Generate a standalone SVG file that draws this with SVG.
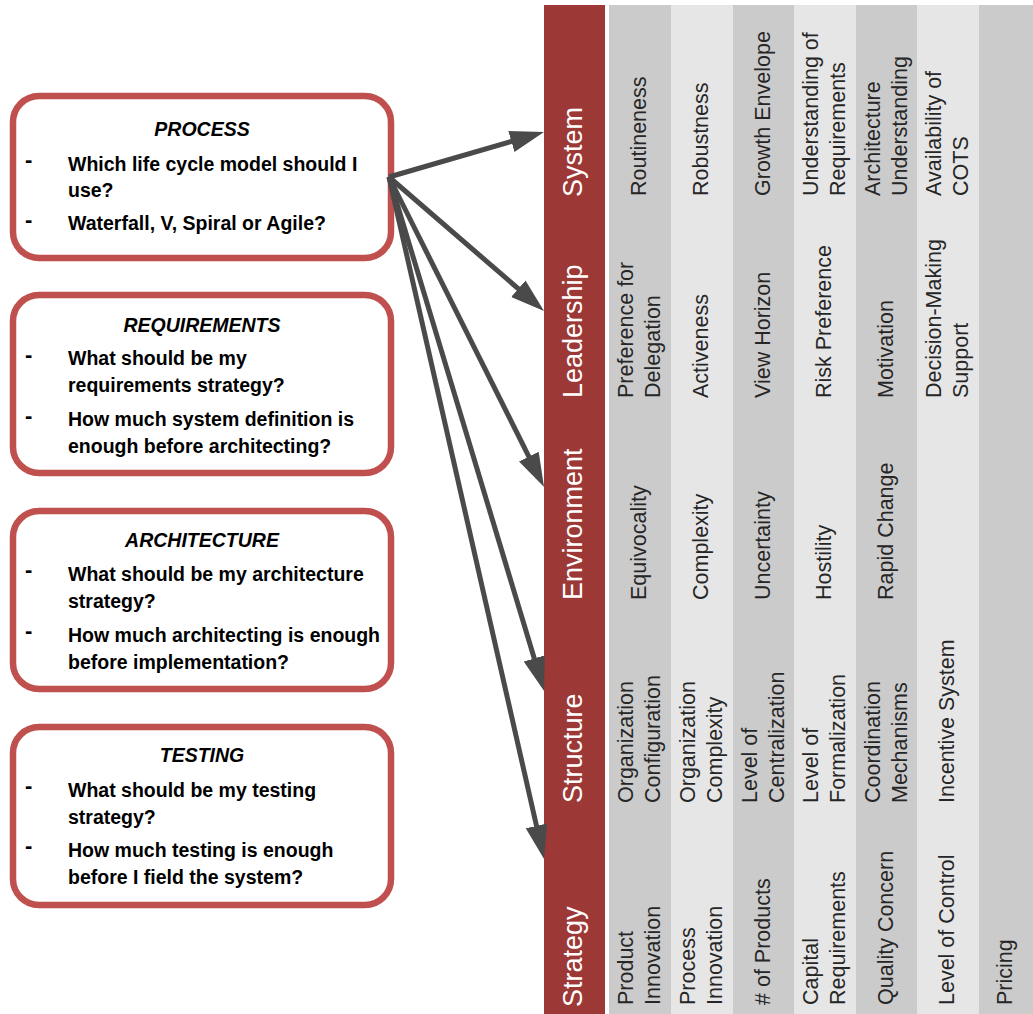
<svg xmlns="http://www.w3.org/2000/svg" width="1033" height="1014" viewBox="0 0 1033 1014">
<style>
.box{fill:#ffffff;stroke:#c0504d;stroke-width:6.5}
.bt{font-family:"Liberation Sans",Arial,sans-serif;font-weight:bold;font-size:19.5px;fill:#000}
.ttl{font-style:italic;text-anchor:middle}
.dash{font-size:22px}
.hdr{font-family:"Liberation Sans",Arial,sans-serif;font-size:27px;fill:#ffffff}
.c{font-family:"Liberation Sans",Arial,sans-serif;font-size:21.5px;fill:#262626}
.dk{fill:#cbcbcb}
.lt{fill:#e6e6e6}
.arr{stroke:#4a4a4a;stroke-width:5;fill:none;marker-end:url(#ah)}
</style>
<defs>
<marker id="ah" markerUnits="userSpaceOnUse" markerWidth="40" markerHeight="30" viewBox="0 -15 40 30" refX="14" refY="0" orient="auto">
<path d="M0,-11 L34,0 L0,11 z" fill="#4a4a4a"/>
</marker>
</defs>
<rect width="1033" height="1014" fill="#ffffff"/>

<g id="table">
<rect x="544" y="5" width="61" height="1009" fill="#9c3836"/>
<rect class="dk" x="609" y="5" width="62" height="1009"/>
<rect class="lt" x="671" y="5" width="62" height="1009"/>
<rect class="dk" x="733" y="5" width="61" height="1009"/>
<rect class="lt" x="794" y="5" width="62" height="1009"/>
<rect class="dk" x="856" y="5" width="61" height="1009"/>
<rect class="lt" x="917" y="5" width="62" height="1009"/>
<rect class="dk" x="979" y="5" width="54" height="1009"/>
</g>

<g id="row-system">
<text class="hdr" transform="translate(582,197) rotate(-90)">System</text>
<text class="c" transform="translate(646,196) rotate(-90)">Routineness</text>
<text class="c" transform="translate(708,196) rotate(-90)">Robustness</text>
<text class="c" transform="translate(769.5,196) rotate(-90)">Growth Envelope</text>
<text class="c" transform="translate(825,196) rotate(-90)"><tspan x="0" y="-7">Understanding of</tspan><tspan x="0" y="20">Requirements</tspan></text>
<text class="c" transform="translate(886.5,196) rotate(-90)"><tspan x="0" y="-7">Architecture</tspan><tspan x="0" y="20">Understanding</tspan></text>
<text class="c" transform="translate(948,196) rotate(-90)"><tspan x="0" y="-7">Availability of</tspan><tspan x="0" y="20">COTS</tspan></text>
</g>

<g id="row-leadership">
<text class="hdr" transform="translate(582,398) rotate(-90)">Leadership</text>
<text class="c" transform="translate(640,398) rotate(-90)"><tspan x="0" y="-7">Preference for</tspan><tspan x="0" y="20">Delegation</tspan></text>
<text class="c" transform="translate(708,398) rotate(-90)">Activeness</text>
<text class="c" transform="translate(769.5,398) rotate(-90)">View Horizon</text>
<text class="c" transform="translate(831,398) rotate(-90)">Risk Preference</text>
<text class="c" transform="translate(892.5,398) rotate(-90)">Motivation</text>
<text class="c" transform="translate(948,398) rotate(-90)"><tspan x="0" y="-7">Decision-Making</tspan><tspan x="0" y="20">Support</tspan></text>
</g>

<g id="row-environment">
<text class="hdr" transform="translate(582,600) rotate(-90)">Environment</text>
<text class="c" transform="translate(646,600) rotate(-90)">Equivocality</text>
<text class="c" transform="translate(708,600) rotate(-90)">Complexity</text>
<text class="c" transform="translate(769.5,600) rotate(-90)">Uncertainty</text>
<text class="c" transform="translate(831,600) rotate(-90)">Hostility</text>
<text class="c" transform="translate(892.5,600) rotate(-90)">Rapid Change</text>
</g>

<g id="row-structure">
<text class="hdr" transform="translate(582,803) rotate(-90)">Structure</text>
<text class="c" transform="translate(640,803) rotate(-90)"><tspan x="0" y="-7">Organization</tspan><tspan x="0" y="20">Configuration</tspan></text>
<text class="c" transform="translate(702,803) rotate(-90)"><tspan x="0" y="-7">Organization</tspan><tspan x="0" y="20">Complexity</tspan></text>
<text class="c" transform="translate(763.5,803) rotate(-90)"><tspan x="0" y="-7">Level of</tspan><tspan x="0" y="20">Centralization</tspan></text>
<text class="c" transform="translate(825,803) rotate(-90)"><tspan x="0" y="-7">Level of</tspan><tspan x="0" y="20">Formalization</tspan></text>
<text class="c" transform="translate(886.5,803) rotate(-90)"><tspan x="0" y="-7">Coordination</tspan><tspan x="0" y="20">Mechanisms</tspan></text>
<text class="c" transform="translate(954,803) rotate(-90)">Incentive System</text>
</g>

<g id="row-strategy">
<text class="hdr" transform="translate(582,1007) rotate(-90)">Strategy</text>
<text class="c" transform="translate(640,1005) rotate(-90)"><tspan x="0" y="-7">Product</tspan><tspan x="0" y="20">Innovation</tspan></text>
<text class="c" transform="translate(702,1005) rotate(-90)"><tspan x="0" y="-7">Process</tspan><tspan x="0" y="20">Innovation</tspan></text>
<text class="c" transform="translate(769.5,1005) rotate(-90)"># of Products</text>
<text class="c" transform="translate(825,1005) rotate(-90)"><tspan x="0" y="-7">Capital</tspan><tspan x="0" y="20">Requirements</tspan></text>
<text class="c" transform="translate(892.5,1005) rotate(-90)">Quality Concern</text>
<text class="c" transform="translate(954,1005) rotate(-90)">Level of Control</text>
<text class="c" transform="translate(1012,1005) rotate(-90)">Pricing</text>
</g>

<g id="process">
<rect class="box" x="13" y="96" width="378" height="162" rx="26"/>
<text class="bt ttl" x="202" y="136">PROCESS</text>
<text class="bt dash" x="25" y="167">-</text>
<text class="bt" x="68" y="170.5">Which life cycle model should I</text>
<text class="bt" x="68" y="197">use?</text>
<text class="bt dash" x="25" y="226.5">-</text>
<text class="bt" x="68" y="230">Waterfall, V, Spiral or Agile?</text>
</g>

<g id="requirements">
<rect class="box" x="13" y="295" width="378" height="178" rx="26"/>
<text class="bt ttl" x="202" y="331.5">REQUIREMENTS</text>
<text class="bt dash" x="25" y="361.5">-</text>
<text class="bt" x="68" y="365">What should be my</text>
<text class="bt" x="68" y="391.5">requirements strategy?</text>
<text class="bt dash" x="25" y="422.5">-</text>
<text class="bt" x="68" y="426">How much system definition is</text>
<text class="bt" x="68" y="453">enough before architecting?</text>
</g>

<g id="architecture">
<rect class="box" x="13" y="511" width="378" height="178" rx="26"/>
<text class="bt ttl" x="202" y="547">ARCHITECTURE</text>
<text class="bt dash" x="25" y="577">-</text>
<text class="bt" x="68" y="580.5">What should be my architecture</text>
<text class="bt" x="68" y="607.5">strategy?</text>
<text class="bt dash" x="25" y="638">-</text>
<text class="bt" x="68" y="641.5">How much architecting is enough</text>
<text class="bt" x="68" y="669">before implementation?</text>
</g>

<g id="testing">
<rect class="box" x="13" y="727" width="378" height="178" rx="26"/>
<text class="bt ttl" x="202" y="762">TESTING</text>
<text class="bt dash" x="25" y="793">-</text>
<text class="bt" x="68" y="796.5">What should be my testing</text>
<text class="bt" x="68" y="824">strategy?</text>
<text class="bt dash" x="25" y="853">-</text>
<text class="bt" x="68" y="856.5">How much testing is enough</text>
<text class="bt" x="68" y="884">before I field the system?</text>
</g>

<g id="connectors">
<line class="arr" x1="389" y1="177" x2="524.8" y2="137.6"/>
<line class="arr" x1="389" y1="177" x2="528.9" y2="297.9"/>
<line class="arr" x1="389" y1="177" x2="535.1" y2="469.1"/>
<line class="arr" x1="389" y1="177" x2="538.3" y2="671.8"/>
<line class="arr" x1="389" y1="177" x2="539.6" y2="839.5"/>
</g>
</svg>
